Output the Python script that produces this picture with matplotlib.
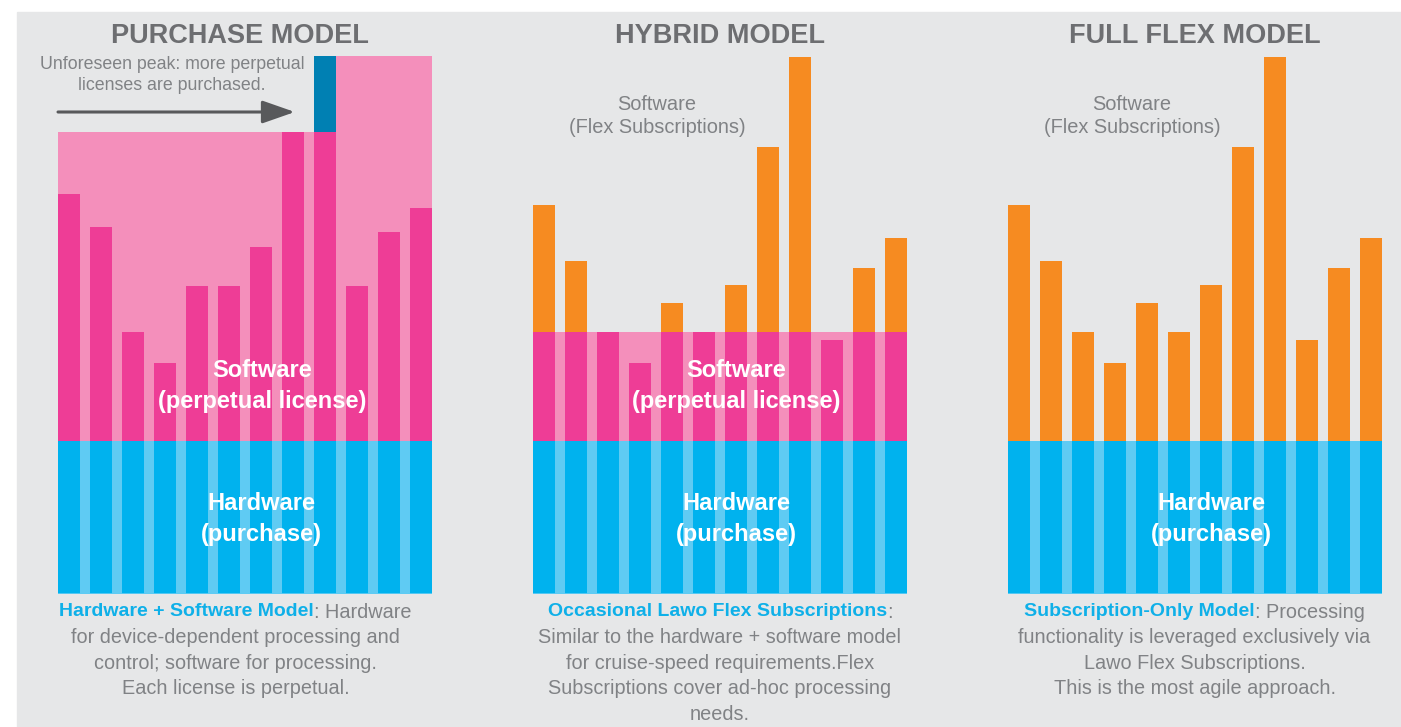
import matplotlib
matplotlib.use("Agg")
import matplotlib.pyplot as plt
from matplotlib.patches import Rectangle

plt.rcParams['font.family'] = ['Liberation Sans', 'DejaVu Sans']

# ---------------- data ----------------
slots = list(range(12))
hardware = [153] * 12
purchase_demand = [247, 214, 109, 78, 155, 155, 194, 309, 309, 155, 209, 233]
purchase_licensed = [309] * 9 + [385] * 3
purchase_extra = [0] * 8 + [76] + [0] * 3
flex_demand = [236, 180, 109, 78, 138, 109, 156, 294, 384, 101, 173, 203]
hybrid_perpetual = 109

titles = ["PURCHASE MODEL", "HYBRID MODEL", "FULL FLEX MODEL"]
caption_heads = [("Hardware + Software Model", ": Hardware"),
                 ("Occasional Lawo Flex Subscriptions", ":"),
                 ("Subscription-Only Model", ": Processing")]
caption_lines = [["for device-dependent processing and",
                  "control; software for processing.",
                  "Each license is perpetual."],
                 ["Similar to the hardware + software model",
                  "for cruise-speed requirements.Flex",
                  "Subscriptions cover ad-hoc processing",
                  "needs."],
                 ["functionality is leveraged exclusively via",
                  "Lawo Flex Subscriptions.",
                  "This is the most agile approach."]]

# ---------------- style ----------------
BG = '#e6e7e8'
TITLE = '#6d6e71'
GREY = '#808285'
PINK = '#ee3d96'
LPINK = '#f48fbb'
BLUE = '#00b2ee'
LBLUE = '#5fcbf3'
TEAL = '#0080b3'
ORANGE = '#f68b21'
CAPBLUE = '#0fb0e8'
ARROW = '#58595b'

W, H = 1401, 727
fig = plt.figure(figsize=(W / 100, H / 100), dpi=100, facecolor='white')
fig.patches.append(Rectangle((17 / W, 0), 1 - 17 / W, (H - 12) / H,
                             transform=fig.transFigure, color=BG, zorder=-10))

BW = 22 / 32
XMAX = 11 + BW
lefts_px = [58, 533, 1008]
base_px = 594
top_px = 20
axes = []
for lp in lefts_px:
    ax = fig.add_axes([lp / W, (H - base_px) / H, XMAX * 32 / W, (base_px - top_px) / H])
    ax.set_xlim(0, XMAX)
    ax.set_ylim(0, base_px - top_px)
    ax.axis('off')
    ax.patch.set_alpha(0)
    axes.append(ax)

renderer = fig.canvas.get_renderer()

def hardware_block(ax):
    ax.bar([XMAX / 2], [hardware[0]], width=XMAX, color=LBLUE, linewidth=0, zorder=1)
    ax.bar(slots, hardware, width=BW, align='edge', color=BLUE, linewidth=0, zorder=2)
    ax.axhline(0, color=LBLUE, lw=2, zorder=3)

# Panel 1: purchase model
ax = axes[0]
hardware_block(ax)
edges = [0] + [i + BW for i in slots]
ax.stairs([h + c for h, c in zip(hardware, purchase_licensed)], edges, baseline=hardware[0],
          fill=True, color=LPINK, linewidth=0, zorder=1)
ax.bar(slots, purchase_demand, bottom=hardware, width=BW, align='edge', color=PINK, linewidth=0, zorder=2)
ax.bar(slots, purchase_extra, bottom=[h + d for h, d in zip(hardware, purchase_demand)],
       width=BW, align='edge', color=TEAL, linewidth=0, zorder=2)
ax.text(3.56, 519, "Unforeseen peak: more perpetual\nlicenses are purchased.", ha='center', va='center',
        color=GREY, fontsize=12.8, linespacing=1.35)
ax.annotate('', xy=(7.4, 482), xytext=(0, 482),
            arrowprops=dict(arrowstyle='-|>,head_length=1.0,head_width=0.35', color=ARROW, lw=2.2,
                            mutation_scale=20, shrinkA=0, shrinkB=0))
ax.text(6.375, 208, "Software\n(perpetual license)", ha='center', va='center', color='white',
        fontsize=17, fontweight='bold', linespacing=1.45, zorder=5)

# Panel 2: hybrid
ax = axes[1]
hardware_block(ax)
ax.bar([XMAX / 2], [hybrid_perpetual], bottom=hardware[0], width=XMAX, color=LPINK, linewidth=0, zorder=1)
pink = [min(d, hybrid_perpetual) for d in flex_demand]
orange = [max(d - hybrid_perpetual, 0) for d in flex_demand]
ax.bar(slots, pink, bottom=hardware, width=BW, align='edge', color=PINK, linewidth=0, zorder=2)
ax.bar(slots, orange, bottom=[h + hybrid_perpetual for h in hardware], width=BW, align='edge',
       color=ORANGE, linewidth=0, zorder=2)
ax.text(6.36, 208, "Software\n(perpetual license)", ha='center', va='center', color='white',
        fontsize=17, fontweight='bold', linespacing=1.45, zorder=5)

# Panel 3: full flex
ax = axes[2]
hardware_block(ax)
ax.bar(slots, flex_demand, bottom=hardware, width=BW, align='edge', color=ORANGE, linewidth=0, zorder=2)

for i, ax in enumerate(axes):
    cx = [5.70, 5.84, 5.84][i]
    ax.text(cx, 558, titles[i], ha='center', va='center', color=TITLE, fontsize=19.5, fontweight='bold')
    ax.text(6.36, 75, "Hardware\n(purchase)", ha='center', va='center', color='white',
            fontsize=17, fontweight='bold', linespacing=1.45, zorder=5)
    if i > 0:
        ax.text(3.875, 478, "Software\n(Flex Subscriptions)", ha='center', va='center', color=GREY,
                fontsize=14.4, linespacing=1.3)
    # caption
    ccx = [5.55, 5.84, 5.83][i]
    y0 = -18
    step = 25.6
    bold, rest = caption_heads[i]
    t1 = ax.text(0, y0, bold, color=CAPBLUE, fontsize=14, fontweight='bold', ha='left', va='center',
                 clip_on=False)
    t2 = ax.text(0, y0, rest, color=GREY, fontsize=14.3, ha='left', va='center', clip_on=False)
    w1 = t1.get_window_extent(renderer).width / 32
    w2 = t2.get_window_extent(renderer).width / 32
    x0 = ccx - (w1 + w2) / 2
    t1.set_x(x0)
    t2.set_x(x0 + w1)
    for k, line in enumerate(caption_lines[i]):
        ax.text(ccx, y0 - step * (k + 1), line, color=GREY, fontsize=14.3, ha='center', va='center',
                clip_on=False)

fig.savefig('out.png', dpi=100, facecolor='white')
